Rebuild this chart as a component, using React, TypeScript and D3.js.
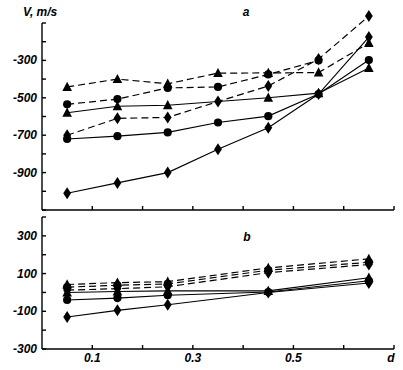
import React from 'react';
import * as d3 from 'd3';

// x positions of the measurements (d)
const dA = [0.05, 0.15, 0.25, 0.35, 0.45, 0.55, 0.65];
const dB = [0.05, 0.15, 0.25, 0.45, 0.65];

// panel a, V (m/s)
const aSolidDiamond = [-1010, -955, -900, -775, -660, -480, -175];
const aSolidCircle = [-720, -705, -685, -632, -598, -480, -298];
const aSolidTriangle = [-580, -545, -540, null, -500, -475, -341];
const aDashTriangle = [-442, -400, -425, -368, -367, -365, -207];
const aDashCircle = [-535, -507, -447, -442, -375, -300, null];
const aDashDiamond = [-700, -610, -605, -520, -437, -293, -63];

// panel b
const bSolidDiamond = [-130, -95, -65, 0, 50];
const bSolidCircle = [-40, -30, -15, 2, 62];
const bSolidTriangle = [0, 5, 8, 8, 78];
const bDashTriangle = [42, 52, 57, 130, 178];
const bDashCircle = [28, 38, 45, 118, 160];
const bDashDiamond = [12, 20, 30, 105, 148];

const yTicksA = [-300, -500, -700, -900];
const yTicksB = [300, 100, -100, -300];
const xTickLabels = ['0.1', '0.3', '0.5'];

type Pt = number | null;

const shapes: Record<string, string> = {
  diamond: 'M0,-6L3.9,0L0,6L-3.9,0Z',
  triangle: 'M0,-5.2L4.8,4L-4.8,4Z',
};

function Marker({ kind, x, y }: { kind: string; x: number; y: number }) {
  if (kind === 'circle') return <circle cx={x} cy={y} r={4.1} fill="#000" />;
  return <path d={shapes[kind]} transform={`translate(${x},${y})`} fill="#000" />;
}

function Series({ xs, ys, kind, dashed, x, y }: any) {
  const pts = xs.map((d: number, i: number) => [d, ys[i]] as [number, Pt]);
  const line = d3.line<[number, Pt]>()
    .x((p) => x(p[0]))
    .y((p) => y(p[1] as number));
  const clean = pts.filter((p: [number, Pt]) => p[1] !== null);
  return (
    <g>
      <path d={line(clean) || ''} fill="none" stroke="#000" strokeWidth={dashed ? 1.2 : 1.1}
        strokeDasharray={dashed ? '7,4' : undefined} />
      {clean.map((p: [number, Pt], i: number) => (
        <Marker key={i} kind={kind} x={x(p[0])} y={y(p[1] as number)} />
      ))}
    </g>
  );
}

export default function App() {
  const left = 42, right = 394;
  const x = d3.scaleLinear().domain([0, 0.7]).range([left, right]);
  const yA = d3.scaleLinear().domain([-1100, -100]).range([210, 23]);
  const yB = d3.scaleLinear().domain([-300, 400]).range([349, 217]);
  const font = { fontFamily: '"Liberation Sans", Arial, sans-serif', fontWeight: 'bold', fontStyle: 'italic', fontSize: 12 } as any;

  const seriesA = [
    { ys: aSolidDiamond, kind: 'diamond', dashed: false },
    { ys: aSolidCircle, kind: 'circle', dashed: false },
    { ys: aSolidTriangle, kind: 'triangle', dashed: false },
    { ys: aDashCircle, kind: 'circle', dashed: true },
    { ys: aDashDiamond, kind: 'diamond', dashed: true },
    { ys: aDashTriangle, kind: 'triangle', dashed: true },
  ];
  const seriesB = [
    { ys: bSolidDiamond, kind: 'diamond', dashed: false },
    { ys: bSolidCircle, kind: 'circle', dashed: false },
    { ys: bSolidTriangle, kind: 'triangle', dashed: false },
    { ys: bDashDiamond, kind: 'diamond', dashed: true },
    { ys: bDashCircle, kind: 'circle', dashed: true },
    { ys: bDashTriangle, kind: 'triangle', dashed: true },
  ];

  const xTicks = d3.range(1, 8).map((i) => i / 10);

  const frame = (y: any) => {
    const [lo, hi] = y.domain();
    const minor = d3.range(lo, hi + 1, 100);
    return (
      <g stroke="#000" strokeWidth={1.4} fill="none">
        <line x1={left} x2={left} y1={y(hi)} y2={y(lo)} />
        <line x1={left} x2={right} y1={y(lo)} y2={y(lo)} />
        {minor.map((v: number) => (
          <line key={v} x1={left} x2={left + 4} y1={y(v)} y2={y(v)} />
        ))}
        {xTicks.map((t) => (
          <line key={t} x1={x(t)} x2={x(t)} y1={y(lo)} y2={y(lo) - 4} />
        ))}
      </g>
    );
  };

  return (
    <svg width={403} height={370} style={{ position: 'absolute', left: 0, top: 0, background: '#fff' }}>
      <rect width={403} height={370} fill="#fff" />
      {frame(yA)}
      {frame(yB)}
      {yTicksA.map((v) => (
        <text key={v} x={37} y={yA(v) + 4} textAnchor="end" {...font}>{v}</text>
      ))}
      {yTicksB.map((v) => (
        <text key={v} x={37} y={yB(v) + 4} textAnchor="end" {...font}>{v}</text>
      ))}
      {xTickLabels.map((t) => (
        <text key={t} x={x(+t)} y={362} textAnchor="middle" {...font}>{t}</text>
      ))}
      <text x={x(0.7) - 3} y={362} textAnchor="middle" {...font}>d</text>
      <text x={23} y={16} {...font}>V, m/s</text>
      <text x={246} y={16} textAnchor="middle" {...font}>a</text>
      <text x={247} y={241} textAnchor="middle" {...font}>b</text>
      {seriesA.map((s, i) => (
        <Series key={i} xs={dA} ys={s.ys} kind={s.kind} dashed={s.dashed} x={x} y={yA} />
      ))}
      {seriesB.map((s, i) => (
        <Series key={i} xs={dB} ys={s.ys} kind={s.kind} dashed={s.dashed} x={x} y={yB} />
      ))}
    </svg>
  );
}
